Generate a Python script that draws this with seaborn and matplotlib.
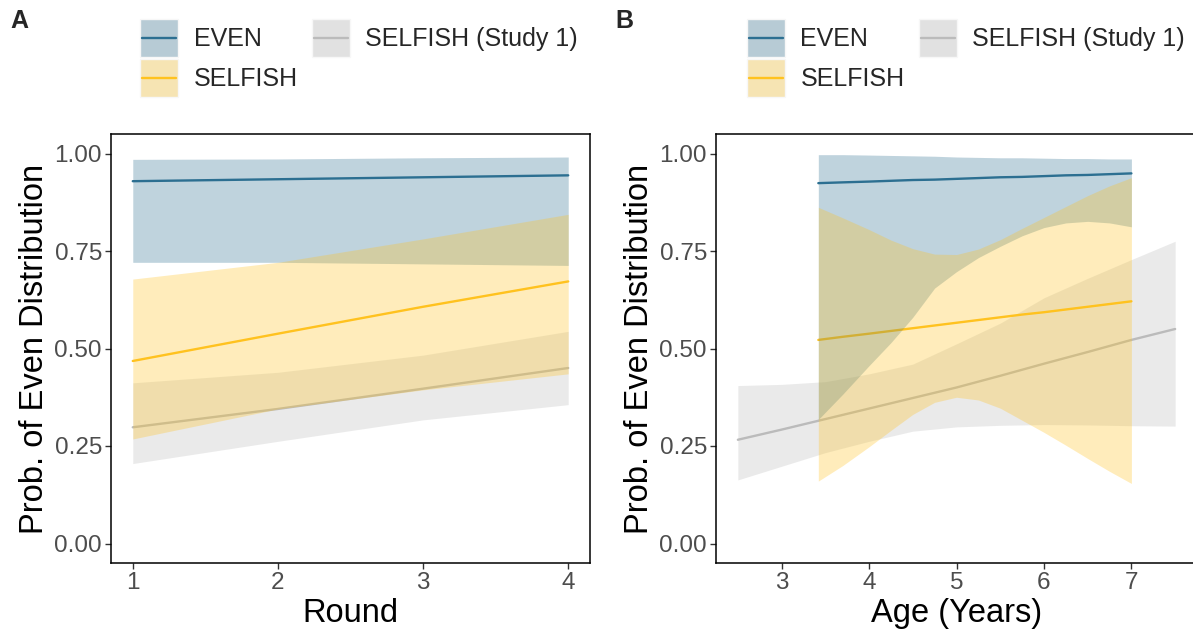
import numpy as np
import pandas as pd
import matplotlib
matplotlib.use("Agg")
import matplotlib.pyplot as plt
import seaborn as sns
from matplotlib.patches import Patch, Rectangle
from matplotlib.lines import Line2D
from matplotlib.legend_handler import HandlerBase

# ---------------- data ----------------
# Panel A: by round
rounds = [1, 2, 3, 4]
even_fit_A = [0.929, 0.934, 0.939, 0.944]
even_lo_A = [0.721, 0.721, 0.717, 0.713]
even_hi_A = [0.985, 0.986, 0.989, 0.991]
selfish_fit_A = [0.468, 0.538, 0.607, 0.672]
selfish_lo_A = [0.268, 0.345, 0.394, 0.435]
selfish_hi_A = [0.678, 0.721, 0.781, 0.844]
study1_fit_A = [0.298, 0.345, 0.397, 0.450]
study1_lo_A = [0.205, 0.262, 0.317, 0.356]
study1_hi_A = [0.412, 0.439, 0.483, 0.544]

# Panel B: by age
ages_B = [3.42, 3.7, 4.0, 4.25, 4.5, 4.75, 5.0, 5.25, 5.5, 5.75, 6.0, 6.25, 6.5, 6.75, 7.0]
even_fit_B = [0.924, 0.926, 0.928, 0.930, 0.932, 0.933, 0.935, 0.937, 0.939, 0.940,
              0.942, 0.944, 0.945, 0.947, 0.949]
even_lo_B = [0.318, 0.383, 0.456, 0.515, 0.580, 0.655, 0.697, 0.733, 0.762, 0.789,
             0.810, 0.822, 0.826, 0.822, 0.812]
even_hi_B = [0.997, 0.997, 0.996, 0.995, 0.994, 0.993, 0.991, 0.990, 0.989, 0.989,
             0.988, 0.987, 0.987, 0.986, 0.986]
selfish_fit_B = [0.522, 0.530, 0.538, 0.545, 0.552, 0.559, 0.566, 0.573, 0.580, 0.587,
                 0.593, 0.600, 0.607, 0.614, 0.621]
selfish_lo_B = [0.160, 0.200, 0.248, 0.290, 0.331, 0.362, 0.375, 0.368, 0.347, 0.316,
                0.285, 0.252, 0.218, 0.185, 0.154]
selfish_hi_B = [0.862, 0.835, 0.805, 0.778, 0.756, 0.742, 0.741, 0.755, 0.779, 0.808,
                0.836, 0.864, 0.892, 0.917, 0.938]
ages_study1 = [2.5, 3.0, 3.5, 4.0, 4.5, 5.0, 5.5, 6.0, 6.5, 7.0, 7.5]
study1_fit_B = [0.266, 0.292, 0.319, 0.346, 0.373, 0.400, 0.430, 0.461, 0.491, 0.522, 0.550]
study1_lo_B = [0.163, 0.198, 0.233, 0.262, 0.288, 0.299, 0.303, 0.305, 0.304, 0.302, 0.301]
study1_hi_B = [0.405, 0.408, 0.415, 0.435, 0.460, 0.512, 0.565, 0.630, 0.680, 0.728, 0.775]

labels = ["EVEN", "SELFISH", "SELFISH (Study 1)"]
colors = {"EVEN": "#2C6F91", "SELFISH": "#FFC21F", "SELFISH (Study 1)": "#BBBBBB"}
y_ticks = [0.00, 0.25, 0.50, 0.75, 1.00]

# ---------------- style ----------------
sns.set_theme(style="white")
plt.rcParams["font.family"] = ["Liberation Sans", "DejaVu Sans"]

W, H = 1193, 638
fig = plt.figure(figsize=(W / 100, H / 100), dpi=100)
axA = fig.add_axes([111 / W, 1 - 563 / H, (590 - 111) / W, (563 - 134) / H])
axB = fig.add_axes([716 / W, 1 - 563 / H, (1197 - 716) / W, (563 - 134) / H])

ALPHA = 0.3
LW = 1.7


def draw_series(ax, x, fit, lo, hi, name, ribbon_first):
    c = colors[name]
    df = pd.DataFrame({"x": x, "y": fit})
    if ribbon_first:
        ax.fill_between(x, lo, hi, color=c, alpha=ALPHA, linewidth=0, zorder=1)
        sns.lineplot(data=df, x="x", y="y", color=c, lw=LW, ax=ax, zorder=2)
    else:
        sns.lineplot(data=df, x="x", y="y", color=c, lw=LW, ax=ax, zorder=3)
        ax.fill_between(x, lo, hi, color=c, alpha=ALPHA, linewidth=0, zorder=4)


# Panel A
draw_series(axA, rounds, study1_fit_A, study1_lo_A, study1_hi_A, "SELFISH (Study 1)", True)
draw_series(axA, rounds, even_fit_A, even_lo_A, even_hi_A, "EVEN", False)
draw_series(axA, rounds, selfish_fit_A, selfish_lo_A, selfish_hi_A, "SELFISH", False)
# Panel B
draw_series(axB, ages_study1, study1_fit_B, study1_lo_B, study1_hi_B, "SELFISH (Study 1)", True)
draw_series(axB, ages_B, even_fit_B, even_lo_B, even_hi_B, "EVEN", False)
draw_series(axB, ages_B, selfish_fit_B, selfish_lo_B, selfish_hi_B, "SELFISH", False)

for ax, xl, xlim, xt in [(axA, "Round", (0.85, 4.15), [1, 2, 3, 4]),
                         (axB, "Age (Years)", (2.25, 7.75), [3, 4, 5, 6, 7])]:
    ax.set_xlim(*xlim)
    ax.set_ylim(-0.05, 1.05)
    ax.set_xticks(xt)
    ax.set_xticklabels([str(v) for v in xt])
    ax.set_yticks(y_ticks)
    ax.set_yticklabels([f"{v:.2f}" for v in y_ticks])
    ax.set_xlabel(xl, fontsize=23.5, color="black", labelpad=3)
    ax.set_ylabel("Prob. of Even Distribution", fontsize=23.5, color="black", labelpad=3)
    ax.tick_params(axis="both", which="major", length=4, width=1.0, color="#333333",
                   labelsize=17.5, labelcolor="#4D4D4D", pad=2.5, bottom=True, left=True)
    for s in ax.spines.values():
        s.set_color("black")
        s.set_linewidth(1.1)
    ax.grid(False)
    ax.set_facecolor("white")


# legends
def blend(c, bg=0.949, a=ALPHA):
    rgb = np.array(matplotlib.colors.to_rgb(c))
    return tuple((1 - a) * bg + a * rgb)


class KeyHandler(HandlerBase):
    def create_artists(self, legend, orig_handle, xdescent, ydescent,
                       width, height, fontsize, trans):
        p, l = orig_handle
        x0, y0 = -xdescent, -ydescent
        r = Rectangle((x0, y0), width, height, facecolor=p.get_facecolor(),
                      edgecolor=p.get_edgecolor(), linewidth=p.get_linewidth(),
                      transform=trans)
        yc = y0 + height / 2
        ln = Line2D([x0 + 1.5, x0 + width - 1.5], [yc, yc], color=l.get_color(),
                    lw=l.get_linewidth(), transform=trans)
        return [r, ln]


def make_handles():
    hs = []
    for name in labels:
        p = Patch(facecolor=blend(colors[name]), edgecolor="#F7F7F7", linewidth=1.0)
        l = Line2D([0], [0], color=colors[name], lw=LW)
        hs.append((p, l))
    return hs


for x0 in (140, 747):
    fig.legend(handles=make_handles(), labels=labels, ncol=2,
               loc="upper left", bbox_to_anchor=(x0 / W, 1 - 19 / H),
               frameon=False, fontsize=18, handlelength=1.52, handleheight=1.96,
               handletextpad=0.62, labelspacing=0.08, columnspacing=0.56, borderpad=0,
               borderaxespad=0,
               handler_map={tuple: KeyHandler()})

fig.text(10 / W, 1 - 9 / H, "A", fontsize=18, fontweight="bold", va="top", ha="left")
fig.text(615 / W, 1 - 9 / H, "B", fontsize=18, fontweight="bold", va="top", ha="left")

fig.savefig("out.png", dpi=100)
